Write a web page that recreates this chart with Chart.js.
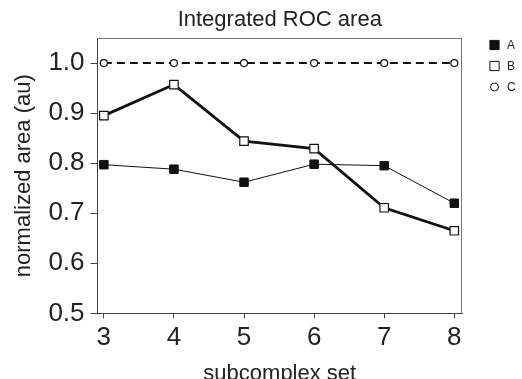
<!DOCTYPE html>
<html>
<head>
<meta charset="utf-8">
<script src="https://cdn.jsdelivr.net/npm/chart.js@4"></script>
<style>
  html, body { margin: 0; padding: 0; background: #fff; }
  #wrap { width: 522px; height: 379px; }
</style>
</head>
<body>
<div id="wrap"><canvas id="rocChart"></canvas></div>
<script>
const subcomplexSets = [3, 4, 5, 6, 7, 8];
const seriesA = [0.797, 0.788, 0.762, 0.798, 0.795, 0.720];
const seriesB = [0.895, 0.957, 0.844, 0.829, 0.711, 0.665];
const seriesC = [1.0, 1.0, 1.0, 1.0, 1.0, 1.0];
const seriesNames = ['A', 'B', 'C'];
const yTicks = [0.5, 0.55, 0.6, 0.65, 0.7, 0.75, 0.8, 0.85, 0.9, 0.95, 1.0];

const FONT = "'Liberation Sans', Arial, Helvetica, sans-serif";

function toPoints(vals) {
    return subcomplexSets.map((x, i) => ({x: x, y: vals[i]}));
}

const isMajor = v => Math.abs(v * 10 - Math.round(v * 10)) < 1e-6;

// frame, title and legend drawn around the chart area
const decorPlugin = {
    id: 'decor',
    afterDraw(chart) {
        const {ctx, chartArea: a} = chart;
        ctx.save();
        ctx.strokeStyle = '#777';
        ctx.lineWidth = 1;
        ctx.beginPath();
        ctx.moveTo(a.left, a.top + 0.5);
        ctx.lineTo(a.right - 0.5, a.top + 0.5);
        ctx.lineTo(a.right - 0.5, a.bottom);
        ctx.stroke();

        ctx.fillStyle = '#222';
        ctx.font = '22px ' + FONT;
        ctx.textAlign = 'center';
        ctx.textBaseline = 'alphabetic';
        ctx.fillText('Integrated ROC area', (a.left + a.right) / 2, 26);

        ctx.font = '12px ' + FONT;
        ctx.textAlign = 'left';
        ctx.textBaseline = 'middle';
        chart.data.datasets.forEach((ds, i) => {
            const y = 45 + i * 21;
            ctx.fillStyle = ds.pointBackgroundColor;
            ctx.strokeStyle = '#111';
            ctx.lineWidth = 1;
            Chart.helpers.drawPoint(ctx, {
                pointStyle: ds.pointStyle,
                radius: ds.pointStyle === 'rect' ? 6.5 : 4,
                borderWidth: 1
            }, 494.5, y);
            ctx.fillStyle = '#222';
            ctx.fillText(ds.label, 507, y + 1);
        });
        ctx.restore();
    }
};

new Chart(document.getElementById('rocChart'), {
    type: 'scatter',
    data: {
        datasets: [
            {
                label: seriesNames[0],
                data: toPoints(seriesA),
                showLine: true,
                borderColor: '#111',
                borderWidth: 1,
                pointStyle: 'rect',
                pointRadius: 6,
                pointBackgroundColor: '#111',
                pointBorderColor: '#111',
                pointBorderWidth: 1
            },
            {
                label: seriesNames[1],
                data: toPoints(seriesB),
                showLine: true,
                borderColor: '#111',
                borderWidth: 2.8,
                pointStyle: 'rect',
                pointRadius: 6,
                pointBackgroundColor: '#fff',
                pointBorderColor: '#111',
                pointBorderWidth: 1.2
            },
            {
                label: seriesNames[2],
                data: toPoints(seriesC),
                showLine: true,
                borderColor: '#111',
                borderWidth: 2,
                borderDash: [8, 5],
                pointStyle: 'circle',
                pointRadius: 3.5,
                pointBackgroundColor: '#fff',
                pointBorderColor: '#111',
                pointBorderWidth: 1.2
            }
        ]
    },
    options: {
        responsive: true,
        maintainAspectRatio: false,
        animation: false,
        layout: {padding: {top: 38, right: 60, left: 11, bottom: -8}},
        plugins: {
            legend: {display: false},
            title: {display: false},
            tooltip: {enabled: false}
        },
        scales: {
            x: {
                type: 'linear',
                min: 2.91,
                max: 8.11,
                afterBuildTicks: axis => { axis.ticks = subcomplexSets.map(v => ({value: v})); },
                border: {color: '#444', width: 1},
                grid: {drawOnChartArea: false, drawTicks: true, tickLength: 5, tickColor: '#444'},
                ticks: {
                    color: '#222',
                    font: {family: FONT, size: 26},
                    padding: 4,
                    maxRotation: 0
                },
                title: {
                    display: true,
                    text: 'subcomplex set',
                    color: '#222',
                    font: {family: FONT, size: 22},
                    padding: {top: 3, bottom: 0}
                }
            },
            y: {
                min: 0.5,
                max: 1.05,
                afterBuildTicks: axis => { axis.ticks = yTicks.map(v => ({value: v})); },
                border: {color: '#444', width: 1},
                grid: {
                    drawOnChartArea: false,
                    drawTicks: true,
                    tickLength: 7,
                    tickColor: ctx => isMajor(ctx.tick.value) ? '#444' : '#aaa'
                },
                ticks: {
                    color: '#222',
                    font: {family: FONT, size: 26},
                    padding: 6,
                    callback: v => isMajor(v) ? v.toFixed(1) : ''
                },
                title: {
                    display: true,
                    text: 'normalized area (au)',
                    color: '#222',
                    font: {family: FONT, size: 22},
                    padding: {top: 0, bottom: 5}
                }
            }
        }
    },
    plugins: [decorPlugin]
});
</script>
</body>
</html>
